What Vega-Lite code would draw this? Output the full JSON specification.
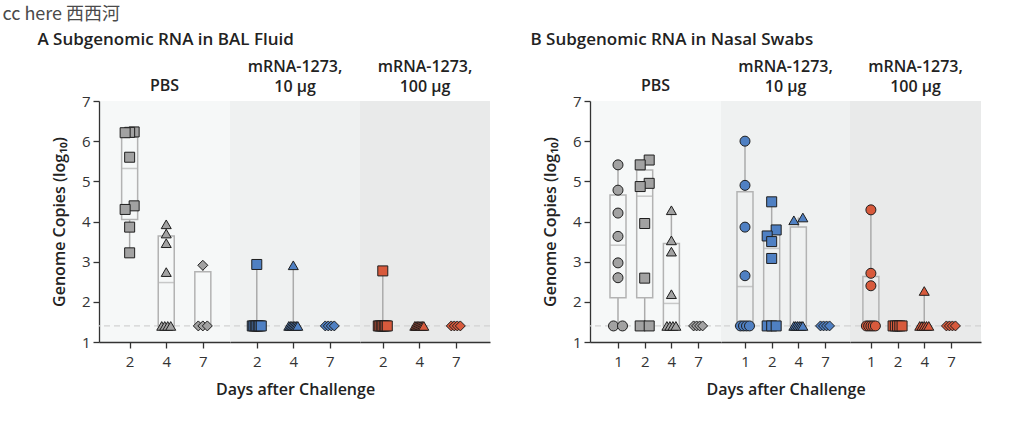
{
  "$schema": "https://vega.github.io/schema/vega-lite/v6.json",
  "padding": {"left": 2, "top": 6, "right": 4, "bottom": 24},
  "title": {"text": "cc here 西西河", "anchor": "start", "dx": -35, "fontSize": 18, "font": "Noto Sans CJK SC", "fontWeight": 400, "color": "#4a4a4a", "offset": 7},
  "datasets": {
    "points": [
      {"panel": "A", "group": "PBS", "day": 2, "value": 6.23},
      {"panel": "A", "group": "PBS", "day": 2, "value": 6.22},
      {"panel": "A", "group": "PBS", "day": 2, "value": 6.21},
      {"panel": "A", "group": "PBS", "day": 2, "value": 5.6},
      {"panel": "A", "group": "PBS", "day": 2, "value": 4.39},
      {"panel": "A", "group": "PBS", "day": 2, "value": 4.3},
      {"panel": "A", "group": "PBS", "day": 2, "value": 3.86},
      {"panel": "A", "group": "PBS", "day": 2, "value": 3.22},
      {"panel": "A", "group": "PBS", "day": 4, "value": 3.93},
      {"panel": "A", "group": "PBS", "day": 4, "value": 3.7},
      {"panel": "A", "group": "PBS", "day": 4, "value": 3.46},
      {"panel": "A", "group": "PBS", "day": 4, "value": 2.74},
      {"panel": "A", "group": "PBS", "day": 4, "value": 1.4},
      {"panel": "A", "group": "PBS", "day": 4, "value": 1.4},
      {"panel": "A", "group": "PBS", "day": 4, "value": 1.4},
      {"panel": "A", "group": "PBS", "day": 4, "value": 1.4},
      {"panel": "A", "group": "PBS", "day": 7, "value": 2.91},
      {"panel": "A", "group": "PBS", "day": 7, "value": 1.4},
      {"panel": "A", "group": "PBS", "day": 7, "value": 1.4},
      {"panel": "A", "group": "PBS", "day": 7, "value": 1.4},
      {"panel": "A", "group": "10", "day": 2, "value": 2.93},
      {"panel": "A", "group": "10", "day": 2, "value": 1.4},
      {"panel": "A", "group": "10", "day": 2, "value": 1.4},
      {"panel": "A", "group": "10", "day": 2, "value": 1.4},
      {"panel": "A", "group": "10", "day": 2, "value": 1.4},
      {"panel": "A", "group": "10", "day": 2, "value": 1.4},
      {"panel": "A", "group": "10", "day": 2, "value": 1.4},
      {"panel": "A", "group": "10", "day": 2, "value": 1.4},
      {"panel": "A", "group": "10", "day": 4, "value": 2.91},
      {"panel": "A", "group": "10", "day": 4, "value": 1.4},
      {"panel": "A", "group": "10", "day": 4, "value": 1.4},
      {"panel": "A", "group": "10", "day": 4, "value": 1.4},
      {"panel": "A", "group": "10", "day": 4, "value": 1.4},
      {"panel": "A", "group": "10", "day": 4, "value": 1.4},
      {"panel": "A", "group": "10", "day": 4, "value": 1.4},
      {"panel": "A", "group": "10", "day": 4, "value": 1.4},
      {"panel": "A", "group": "10", "day": 7, "value": 1.4},
      {"panel": "A", "group": "10", "day": 7, "value": 1.4},
      {"panel": "A", "group": "10", "day": 7, "value": 1.4},
      {"panel": "A", "group": "10", "day": 7, "value": 1.4},
      {"panel": "A", "group": "100", "day": 2, "value": 2.77},
      {"panel": "A", "group": "100", "day": 2, "value": 1.4},
      {"panel": "A", "group": "100", "day": 2, "value": 1.4},
      {"panel": "A", "group": "100", "day": 2, "value": 1.4},
      {"panel": "A", "group": "100", "day": 2, "value": 1.4},
      {"panel": "A", "group": "100", "day": 2, "value": 1.4},
      {"panel": "A", "group": "100", "day": 2, "value": 1.4},
      {"panel": "A", "group": "100", "day": 2, "value": 1.4},
      {"panel": "A", "group": "100", "day": 4, "value": 1.4},
      {"panel": "A", "group": "100", "day": 4, "value": 1.4},
      {"panel": "A", "group": "100", "day": 4, "value": 1.4},
      {"panel": "A", "group": "100", "day": 4, "value": 1.4},
      {"panel": "A", "group": "100", "day": 4, "value": 1.4},
      {"panel": "A", "group": "100", "day": 4, "value": 1.4},
      {"panel": "A", "group": "100", "day": 4, "value": 1.4},
      {"panel": "A", "group": "100", "day": 4, "value": 1.4},
      {"panel": "A", "group": "100", "day": 7, "value": 1.4},
      {"panel": "A", "group": "100", "day": 7, "value": 1.4},
      {"panel": "A", "group": "100", "day": 7, "value": 1.4},
      {"panel": "A", "group": "100", "day": 7, "value": 1.4},
      {"panel": "B", "group": "PBS", "day": 1, "value": 5.41},
      {"panel": "B", "group": "PBS", "day": 1, "value": 4.78},
      {"panel": "B", "group": "PBS", "day": 1, "value": 4.21},
      {"panel": "B", "group": "PBS", "day": 1, "value": 3.63},
      {"panel": "B", "group": "PBS", "day": 1, "value": 2.97},
      {"panel": "B", "group": "PBS", "day": 1, "value": 2.6},
      {"panel": "B", "group": "PBS", "day": 1, "value": 1.4},
      {"panel": "B", "group": "PBS", "day": 1, "value": 1.4},
      {"panel": "B", "group": "PBS", "day": 2, "value": 5.53},
      {"panel": "B", "group": "PBS", "day": 2, "value": 5.41},
      {"panel": "B", "group": "PBS", "day": 2, "value": 4.95},
      {"panel": "B", "group": "PBS", "day": 2, "value": 4.87},
      {"panel": "B", "group": "PBS", "day": 2, "value": 3.95},
      {"panel": "B", "group": "PBS", "day": 2, "value": 2.59},
      {"panel": "B", "group": "PBS", "day": 2, "value": 1.4},
      {"panel": "B", "group": "PBS", "day": 2, "value": 1.4},
      {"panel": "B", "group": "PBS", "day": 4, "value": 4.28},
      {"panel": "B", "group": "PBS", "day": 4, "value": 3.53},
      {"panel": "B", "group": "PBS", "day": 4, "value": 3.25},
      {"panel": "B", "group": "PBS", "day": 4, "value": 2.19},
      {"panel": "B", "group": "PBS", "day": 4, "value": 1.4},
      {"panel": "B", "group": "PBS", "day": 4, "value": 1.4},
      {"panel": "B", "group": "PBS", "day": 4, "value": 1.4},
      {"panel": "B", "group": "PBS", "day": 4, "value": 1.4},
      {"panel": "B", "group": "PBS", "day": 7, "value": 1.4},
      {"panel": "B", "group": "PBS", "day": 7, "value": 1.4},
      {"panel": "B", "group": "PBS", "day": 7, "value": 1.4},
      {"panel": "B", "group": "PBS", "day": 7, "value": 1.4},
      {"panel": "B", "group": "10", "day": 1, "value": 6.0},
      {"panel": "B", "group": "10", "day": 1, "value": 4.9},
      {"panel": "B", "group": "10", "day": 1, "value": 3.86},
      {"panel": "B", "group": "10", "day": 1, "value": 2.65},
      {"panel": "B", "group": "10", "day": 1, "value": 1.4},
      {"panel": "B", "group": "10", "day": 1, "value": 1.4},
      {"panel": "B", "group": "10", "day": 1, "value": 1.4},
      {"panel": "B", "group": "10", "day": 1, "value": 1.4},
      {"panel": "B", "group": "10", "day": 2, "value": 4.49},
      {"panel": "B", "group": "10", "day": 2, "value": 3.79},
      {"panel": "B", "group": "10", "day": 2, "value": 3.64},
      {"panel": "B", "group": "10", "day": 2, "value": 3.5},
      {"panel": "B", "group": "10", "day": 2, "value": 3.08},
      {"panel": "B", "group": "10", "day": 2, "value": 1.4},
      {"panel": "B", "group": "10", "day": 2, "value": 1.4},
      {"panel": "B", "group": "10", "day": 2, "value": 1.4},
      {"panel": "B", "group": "10", "day": 4, "value": 4.1},
      {"panel": "B", "group": "10", "day": 4, "value": 4.03},
      {"panel": "B", "group": "10", "day": 4, "value": 1.4},
      {"panel": "B", "group": "10", "day": 4, "value": 1.4},
      {"panel": "B", "group": "10", "day": 4, "value": 1.4},
      {"panel": "B", "group": "10", "day": 4, "value": 1.4},
      {"panel": "B", "group": "10", "day": 4, "value": 1.4},
      {"panel": "B", "group": "10", "day": 4, "value": 1.4},
      {"panel": "B", "group": "10", "day": 7, "value": 1.4},
      {"panel": "B", "group": "10", "day": 7, "value": 1.4},
      {"panel": "B", "group": "10", "day": 7, "value": 1.4},
      {"panel": "B", "group": "10", "day": 7, "value": 1.4},
      {"panel": "B", "group": "100", "day": 1, "value": 4.29},
      {"panel": "B", "group": "100", "day": 1, "value": 2.71},
      {"panel": "B", "group": "100", "day": 1, "value": 2.4},
      {"panel": "B", "group": "100", "day": 1, "value": 1.4},
      {"panel": "B", "group": "100", "day": 1, "value": 1.4},
      {"panel": "B", "group": "100", "day": 1, "value": 1.4},
      {"panel": "B", "group": "100", "day": 1, "value": 1.4},
      {"panel": "B", "group": "100", "day": 1, "value": 1.4},
      {"panel": "B", "group": "100", "day": 2, "value": 1.4},
      {"panel": "B", "group": "100", "day": 2, "value": 1.4},
      {"panel": "B", "group": "100", "day": 2, "value": 1.4},
      {"panel": "B", "group": "100", "day": 2, "value": 1.4},
      {"panel": "B", "group": "100", "day": 2, "value": 1.4},
      {"panel": "B", "group": "100", "day": 4, "value": 2.27},
      {"panel": "B", "group": "100", "day": 4, "value": 1.4},
      {"panel": "B", "group": "100", "day": 4, "value": 1.4},
      {"panel": "B", "group": "100", "day": 4, "value": 1.4},
      {"panel": "B", "group": "100", "day": 4, "value": 1.4},
      {"panel": "B", "group": "100", "day": 4, "value": 1.4},
      {"panel": "B", "group": "100", "day": 7, "value": 1.4},
      {"panel": "B", "group": "100", "day": 7, "value": 1.4},
      {"panel": "B", "group": "100", "day": 7, "value": 1.4},
      {"panel": "B", "group": "100", "day": 7, "value": 1.4}
    ],
    "boxes": [
      {"panel": "A", "group": "PBS", "day": 2, "min": 3.22, "q1": 4.05, "med": 5.32, "q3": 6.1, "max": 6.23},
      {"panel": "A", "group": "PBS", "day": 4, "min": 1.4, "q1": 1.4, "med": 2.48, "q3": 3.64, "max": 3.93},
      {"panel": "A", "group": "PBS", "day": 7, "min": 1.4, "q1": 1.4, "med": 1.4, "q3": 2.75, "max": 2.91},
      {"panel": "A", "group": "10", "day": 2, "min": 1.4, "q1": 1.4, "med": 1.4, "q3": 1.4, "max": 2.93},
      {"panel": "A", "group": "10", "day": 4, "min": 1.4, "q1": 1.4, "med": 1.4, "q3": 1.4, "max": 2.91},
      {"panel": "A", "group": "10", "day": 7, "min": 1.4, "q1": 1.4, "med": 1.4, "q3": 1.4, "max": 1.4},
      {"panel": "A", "group": "100", "day": 2, "min": 1.4, "q1": 1.4, "med": 1.4, "q3": 1.4, "max": 2.77},
      {"panel": "A", "group": "100", "day": 4, "min": 1.4, "q1": 1.4, "med": 1.4, "q3": 1.4, "max": 1.4},
      {"panel": "A", "group": "100", "day": 7, "min": 1.4, "q1": 1.4, "med": 1.4, "q3": 1.4, "max": 1.4},
      {"panel": "B", "group": "PBS", "day": 1, "min": 1.4, "q1": 2.1, "med": 3.41, "q3": 4.66, "max": 5.41},
      {"panel": "B", "group": "PBS", "day": 2, "min": 1.4, "q1": 2.1, "med": 4.63, "q3": 5.28, "max": 5.53},
      {"panel": "B", "group": "PBS", "day": 4, "min": 1.4, "q1": 1.4, "med": 1.96, "q3": 3.45, "max": 4.28},
      {"panel": "B", "group": "PBS", "day": 7, "min": 1.4, "q1": 1.4, "med": 1.4, "q3": 1.4, "max": 1.4},
      {"panel": "B", "group": "10", "day": 1, "min": 1.4, "q1": 1.4, "med": 2.38, "q3": 4.74, "max": 6.0},
      {"panel": "B", "group": "10", "day": 2, "min": 1.4, "q1": 1.4, "med": 3.33, "q3": 3.71, "max": 4.49},
      {"panel": "B", "group": "10", "day": 4, "min": 1.4, "q1": 1.4, "med": 1.4, "q3": 3.86, "max": 4.1},
      {"panel": "B", "group": "10", "day": 7, "min": 1.4, "q1": 1.4, "med": 1.4, "q3": 1.4, "max": 1.4},
      {"panel": "B", "group": "100", "day": 1, "min": 1.4, "q1": 1.4, "med": 1.4, "q3": 2.63, "max": 4.29},
      {"panel": "B", "group": "100", "day": 2, "min": 1.4, "q1": 1.4, "med": 1.4, "q3": 1.4, "max": 1.4},
      {"panel": "B", "group": "100", "day": 4, "min": 1.4, "q1": 1.4, "med": 1.4, "q3": 1.4, "max": 2.27},
      {"panel": "B", "group": "100", "day": 7, "min": 1.4, "q1": 1.4, "med": 1.4, "q3": 1.4, "max": 1.4}
    ]
  },
  "spacing": 39,
  "hconcat": [
    {
      "title": {"text": "A  Subgenomic RNA in BAL Fluid", "anchor": "start", "dx": -14, "fontSize": 17, "fontWeight": 600, "offset": 10},
      "bounds": "flush",
      "spacing": 0,
      "hconcat": [
        {
          "width": 131, "height": 241,
          "view": {"fill": "#f6f8f8", "stroke": null},
          "title": {"text": "PBS", "dy": 6},
          "layer": [
            {"data": {"values": [{}]}, "mark": {"type": "rule", "strokeDash": [6, 4], "color": "#d2d2d2", "strokeWidth": 1.2},
             "encoding": {"y": {"datum": 1.4, "type": "quantitative", "scale": {"domain": [1, 7], "nice": false, "zero": false}, "axis": {"title": "Genome Copies (log₁₀)", "values": [1, 2, 3, 4, 5, 6, 7]}}}},
            {"data": {"name": "boxes"}, "transform": [{"filter": "datum.panel === 'A' && datum.group === 'PBS'"}],
             "mark": {"type": "rule", "color": "#ababab", "strokeWidth": 1.5},
             "encoding": {"x": {"field": "day", "type": "ordinal", "scale": {"type": "point", "domain": [2, 4, 7], "padding": 0.79, "align": 0.53}, "axis": {"title": null}},
                          "y": {"field": "min", "type": "quantitative", "axis": {"title": "Genome Copies (log₁₀)", "values": [1, 2, 3, 4, 5, 6, 7]}}, "y2": {"field": "q1"}}},
            {"data": {"name": "boxes"}, "transform": [{"filter": "datum.panel === 'A' && datum.group === 'PBS'"}],
             "mark": {"type": "rule", "color": "#ababab", "strokeWidth": 1.5},
             "encoding": {"x": {"field": "day", "type": "ordinal"}, "y": {"field": "q3", "type": "quantitative", "axis": {"title": "Genome Copies (log₁₀)", "values": [1, 2, 3, 4, 5, 6, 7]}}, "y2": {"field": "max"}}},
            {"data": {"name": "boxes"}, "transform": [{"filter": "datum.panel === 'A' && datum.group === 'PBS'"}],
             "mark": {"type": "bar", "size": 16, "fill": "#ffffff", "fillOpacity": 0, "stroke": "#b3b3b3", "strokeWidth": 1.5},
             "encoding": {"x": {"field": "day", "type": "ordinal"}, "y": {"field": "q1", "type": "quantitative", "axis": {"title": "Genome Copies (log₁₀)", "values": [1, 2, 3, 4, 5, 6, 7]}}, "y2": {"field": "q3"}}},
            {"data": {"name": "boxes"}, "transform": [{"filter": "datum.panel === 'A' && datum.group === 'PBS'"}],
             "mark": {"type": "tick", "orient": "horizontal", "size": 16, "thickness": 1.5, "color": "#b3b3b3"},
             "encoding": {"x": {"field": "day", "type": "ordinal"}, "y": {"field": "med", "type": "quantitative", "axis": {"title": "Genome Copies (log₁₀)", "values": [1, 2, 3, 4, 5, 6, 7]}}}},
            {"data": {"name": "points"},
             "transform": [
               {"filter": "datum.panel === 'A' && datum.group === 'PBS'"},
               {"bin": {"step": 0.2, "extent": [1, 7]}, "field": "value", "as": "vb"},
               {"joinaggregate": [{"op": "count", "as": "n"}], "groupby": ["day", "vb"]},
               {"window": [{"op": "row_number", "as": "r"}], "groupby": ["day", "vb"], "sort": [{"field": "value", "order": "ascending"}]},
               {"calculate": "datum.n > 1 ? (datum.r - (datum.n + 1) / 2) / (datum.n - 1) : 0", "as": "j"}
             ],
             "mark": {"type": "point", "filled": true, "stroke": "#1e1e1e", "strokeWidth": 1, "opacity": 1, "size": 100},
             "encoding": {
               "x": {"field": "day", "type": "ordinal"},
               "xOffset": {"field": "j", "type": "quantitative", "scale": {"domain": [-0.5, 0.5], "range": [-4.5, 4.5]}},
               "y": {"field": "value", "type": "quantitative", "axis": {"title": "Genome Copies (log₁₀)", "values": [1, 2, 3, 4, 5, 6, 7]}},
               "shape": {"field": "day", "type": "ordinal", "scale": {"domain": [1, 2, 4, 7], "range": ["circle", "square", "triangle-up", "diamond"]}, "legend": null},
               "fill": {"field": "group", "type": "nominal", "scale": {"domain": ["PBS", "10", "100"], "range": ["#a2a2a2", "#4f80c3", "#d85a3c"]}, "legend": null}
             }}
          ]
        },
        {
          "width": 130, "height": 241,
          "view": {"fill": "#eff1f1", "stroke": null},
          "title": {"text": ["mRNA-1273,", "10 μg"]},
          "layer": [
            {"data": {"values": [{}]}, "mark": {"type": "rule", "strokeDash": [6, 4], "color": "#d2d2d2", "strokeWidth": 1.2},
             "encoding": {"y": {"datum": 1.4, "type": "quantitative", "scale": {"domain": [1, 7], "nice": false, "zero": false}, "axis": null}}},
            {"data": {"name": "boxes"}, "transform": [{"filter": "datum.panel === 'A' && datum.group === '10'"}],
             "mark": {"type": "rule", "color": "#ababab", "strokeWidth": 1.5},
             "encoding": {"x": {"field": "day", "type": "ordinal", "scale": {"type": "point", "domain": [2, 4, 7], "padding": 0.78, "align": 0.47}, "axis": {"title": "Days after Challenge"}},
                          "y": {"field": "min", "type": "quantitative", "axis": null}, "y2": {"field": "q1"}}},
            {"data": {"name": "boxes"}, "transform": [{"filter": "datum.panel === 'A' && datum.group === '10'"}],
             "mark": {"type": "rule", "color": "#ababab", "strokeWidth": 1.5},
             "encoding": {"x": {"field": "day", "type": "ordinal"}, "y": {"field": "q3", "type": "quantitative", "axis": null}, "y2": {"field": "max"}}},
            {"data": {"name": "boxes"}, "transform": [{"filter": "datum.panel === 'A' && datum.group === '10'"}],
             "mark": {"type": "bar", "size": 16, "fill": "#ffffff", "fillOpacity": 0, "stroke": "#b3b3b3", "strokeWidth": 1.5},
             "encoding": {"x": {"field": "day", "type": "ordinal"}, "y": {"field": "q1", "type": "quantitative", "axis": null}, "y2": {"field": "q3"}}},
            {"data": {"name": "boxes"}, "transform": [{"filter": "datum.panel === 'A' && datum.group === '10'"}],
             "mark": {"type": "tick", "orient": "horizontal", "size": 16, "thickness": 1.5, "color": "#b3b3b3"},
             "encoding": {"x": {"field": "day", "type": "ordinal"}, "y": {"field": "med", "type": "quantitative", "axis": null}}},
            {"data": {"name": "points"},
             "transform": [
               {"filter": "datum.panel === 'A' && datum.group === '10'"},
               {"bin": {"step": 0.2, "extent": [1, 7]}, "field": "value", "as": "vb"},
               {"joinaggregate": [{"op": "count", "as": "n"}], "groupby": ["day", "vb"]},
               {"window": [{"op": "row_number", "as": "r"}], "groupby": ["day", "vb"], "sort": [{"field": "value", "order": "ascending"}]},
               {"calculate": "datum.n > 1 ? (datum.r - (datum.n + 1) / 2) / (datum.n - 1) : 0", "as": "j"}
             ],
             "mark": {"type": "point", "filled": true, "stroke": "#1e1e1e", "strokeWidth": 1, "opacity": 1, "size": 100},
             "encoding": {
               "x": {"field": "day", "type": "ordinal"},
               "xOffset": {"field": "j", "type": "quantitative", "scale": {"domain": [-0.5, 0.5], "range": [-4.5, 4.5]}},
               "y": {"field": "value", "type": "quantitative", "axis": null},
               "shape": {"field": "day", "type": "ordinal", "scale": {"domain": [1, 2, 4, 7], "range": ["circle", "square", "triangle-up", "diamond"]}, "legend": null},
               "fill": {"field": "group", "type": "nominal", "scale": {"domain": ["PBS", "10", "100"], "range": ["#a2a2a2", "#4f80c3", "#d85a3c"]}, "legend": null}
             }}
          ]
        },
        {
          "width": 130, "height": 241,
          "view": {"fill": "#e9eaea", "stroke": null},
          "title": {"text": ["mRNA-1273,", "100 μg"]},
          "layer": [
            {"data": {"values": [{}]}, "mark": {"type": "rule", "strokeDash": [6, 4], "color": "#d2d2d2", "strokeWidth": 1.2},
             "encoding": {"y": {"datum": 1.4, "type": "quantitative", "scale": {"domain": [1, 7], "nice": false, "zero": false}, "axis": null}}},
            {"data": {"name": "boxes"}, "transform": [{"filter": "datum.panel === 'A' && datum.group === '100'"}],
             "mark": {"type": "rule", "color": "#ababab", "strokeWidth": 1.5},
             "encoding": {"x": {"field": "day", "type": "ordinal", "scale": {"type": "point", "domain": [2, 4, 7], "padding": 0.78, "align": 0.4}, "axis": {"title": null}},
                          "y": {"field": "min", "type": "quantitative", "axis": null}, "y2": {"field": "q1"}}},
            {"data": {"name": "boxes"}, "transform": [{"filter": "datum.panel === 'A' && datum.group === '100'"}],
             "mark": {"type": "rule", "color": "#ababab", "strokeWidth": 1.5},
             "encoding": {"x": {"field": "day", "type": "ordinal"}, "y": {"field": "q3", "type": "quantitative", "axis": null}, "y2": {"field": "max"}}},
            {"data": {"name": "boxes"}, "transform": [{"filter": "datum.panel === 'A' && datum.group === '100'"}],
             "mark": {"type": "bar", "size": 16, "fill": "#ffffff", "fillOpacity": 0, "stroke": "#b3b3b3", "strokeWidth": 1.5},
             "encoding": {"x": {"field": "day", "type": "ordinal"}, "y": {"field": "q1", "type": "quantitative", "axis": null}, "y2": {"field": "q3"}}},
            {"data": {"name": "boxes"}, "transform": [{"filter": "datum.panel === 'A' && datum.group === '100'"}],
             "mark": {"type": "tick", "orient": "horizontal", "size": 16, "thickness": 1.5, "color": "#b3b3b3"},
             "encoding": {"x": {"field": "day", "type": "ordinal"}, "y": {"field": "med", "type": "quantitative", "axis": null}}},
            {"data": {"name": "points"},
             "transform": [
               {"filter": "datum.panel === 'A' && datum.group === '100'"},
               {"bin": {"step": 0.2, "extent": [1, 7]}, "field": "value", "as": "vb"},
               {"joinaggregate": [{"op": "count", "as": "n"}], "groupby": ["day", "vb"]},
               {"window": [{"op": "row_number", "as": "r"}], "groupby": ["day", "vb"], "sort": [{"field": "value", "order": "ascending"}]},
               {"calculate": "datum.n > 1 ? (datum.r - (datum.n + 1) / 2) / (datum.n - 1) : 0", "as": "j"}
             ],
             "mark": {"type": "point", "filled": true, "stroke": "#1e1e1e", "strokeWidth": 1, "opacity": 1, "size": 100},
             "encoding": {
               "x": {"field": "day", "type": "ordinal"},
               "xOffset": {"field": "j", "type": "quantitative", "scale": {"domain": [-0.5, 0.5], "range": [-4.5, 4.5]}},
               "y": {"field": "value", "type": "quantitative", "axis": null},
               "shape": {"field": "day", "type": "ordinal", "scale": {"domain": [1, 2, 4, 7], "range": ["circle", "square", "triangle-up", "diamond"]}, "legend": null},
               "fill": {"field": "group", "type": "nominal", "scale": {"domain": ["PBS", "10", "100"], "range": ["#a2a2a2", "#4f80c3", "#d85a3c"]}, "legend": null}
             }}
          ]
        }
      ]
    },
    {
      "title": {"text": "B  Subgenomic RNA in Nasal Swabs", "anchor": "start", "dx": -12, "fontSize": 17, "fontWeight": 600, "offset": 10},
      "bounds": "flush",
      "spacing": 0,
      "hconcat": [
        {
          "width": 131, "height": 241,
          "view": {"fill": "#f6f8f8", "stroke": null},
          "title": {"text": "PBS", "dy": 6},
          "layer": [
            {"data": {"values": [{}]}, "mark": {"type": "rule", "strokeDash": [6, 4], "color": "#d2d2d2", "strokeWidth": 1.2},
             "encoding": {"y": {"datum": 1.4, "type": "quantitative", "scale": {"domain": [1, 7], "nice": false, "zero": false}, "axis": {"title": "Genome Copies (log₁₀)", "values": [1, 2, 3, 4, 5, 6, 7]}}}},
            {"data": {"name": "boxes"}, "transform": [{"filter": "datum.panel === 'B' && datum.group === 'PBS'"}],
             "mark": {"type": "rule", "color": "#ababab", "strokeWidth": 1.5},
             "encoding": {"x": {"field": "day", "type": "ordinal", "scale": {"type": "point", "domain": [1, 2, 4, 7], "padding": 0.953, "align": 0.55}, "axis": {"title": null}},
                          "y": {"field": "min", "type": "quantitative", "axis": {"title": "Genome Copies (log₁₀)", "values": [1, 2, 3, 4, 5, 6, 7]}}, "y2": {"field": "q1"}}},
            {"data": {"name": "boxes"}, "transform": [{"filter": "datum.panel === 'B' && datum.group === 'PBS'"}],
             "mark": {"type": "rule", "color": "#ababab", "strokeWidth": 1.5},
             "encoding": {"x": {"field": "day", "type": "ordinal"}, "y": {"field": "q3", "type": "quantitative", "axis": {"title": "Genome Copies (log₁₀)", "values": [1, 2, 3, 4, 5, 6, 7]}}, "y2": {"field": "max"}}},
            {"data": {"name": "boxes"}, "transform": [{"filter": "datum.panel === 'B' && datum.group === 'PBS'"}],
             "mark": {"type": "bar", "size": 16, "fill": "#ffffff", "fillOpacity": 0, "stroke": "#b3b3b3", "strokeWidth": 1.5},
             "encoding": {"x": {"field": "day", "type": "ordinal"}, "y": {"field": "q1", "type": "quantitative", "axis": {"title": "Genome Copies (log₁₀)", "values": [1, 2, 3, 4, 5, 6, 7]}}, "y2": {"field": "q3"}}},
            {"data": {"name": "boxes"}, "transform": [{"filter": "datum.panel === 'B' && datum.group === 'PBS'"}],
             "mark": {"type": "tick", "orient": "horizontal", "size": 16, "thickness": 1.5, "color": "#b3b3b3"},
             "encoding": {"x": {"field": "day", "type": "ordinal"}, "y": {"field": "med", "type": "quantitative", "axis": {"title": "Genome Copies (log₁₀)", "values": [1, 2, 3, 4, 5, 6, 7]}}}},
            {"data": {"name": "points"},
             "transform": [
               {"filter": "datum.panel === 'B' && datum.group === 'PBS'"},
               {"bin": {"step": 0.2, "extent": [1, 7]}, "field": "value", "as": "vb"},
               {"joinaggregate": [{"op": "count", "as": "n"}], "groupby": ["day", "vb"]},
               {"window": [{"op": "row_number", "as": "r"}], "groupby": ["day", "vb"], "sort": [{"field": "value", "order": "ascending"}]},
               {"calculate": "datum.n > 1 ? (datum.r - (datum.n + 1) / 2) / (datum.n - 1) : 0", "as": "j"}
             ],
             "mark": {"type": "point", "filled": true, "stroke": "#1e1e1e", "strokeWidth": 1, "opacity": 1, "size": 100},
             "encoding": {
               "x": {"field": "day", "type": "ordinal"},
               "xOffset": {"field": "j", "type": "quantitative", "scale": {"domain": [-0.5, 0.5], "range": [-4.5, 4.5]}},
               "y": {"field": "value", "type": "quantitative", "axis": {"title": "Genome Copies (log₁₀)", "values": [1, 2, 3, 4, 5, 6, 7]}},
               "shape": {"field": "day", "type": "ordinal", "scale": {"domain": [1, 2, 4, 7], "range": ["circle", "square", "triangle-up", "diamond"]}, "legend": null},
               "fill": {"field": "group", "type": "nominal", "scale": {"domain": ["PBS", "10", "100"], "range": ["#a2a2a2", "#4f80c3", "#d85a3c"]}, "legend": null}
             }}
          ]
        },
        {
          "width": 129, "height": 241,
          "view": {"fill": "#eff1f1", "stroke": null},
          "title": {"text": ["mRNA-1273,", "10 μg"]},
          "layer": [
            {"data": {"values": [{}]}, "mark": {"type": "rule", "strokeDash": [6, 4], "color": "#d2d2d2", "strokeWidth": 1.2},
             "encoding": {"y": {"datum": 1.4, "type": "quantitative", "scale": {"domain": [1, 7], "nice": false, "zero": false}, "axis": null}}},
            {"data": {"name": "boxes"}, "transform": [{"filter": "datum.panel === 'B' && datum.group === '10'"}],
             "mark": {"type": "rule", "color": "#ababab", "strokeWidth": 1.5},
             "encoding": {"x": {"field": "day", "type": "ordinal", "scale": {"type": "point", "domain": [1, 2, 4, 7], "padding": 0.918, "align": 0.49}, "axis": {"title": "Days after Challenge"}},
                          "y": {"field": "min", "type": "quantitative", "axis": null}, "y2": {"field": "q1"}}},
            {"data": {"name": "boxes"}, "transform": [{"filter": "datum.panel === 'B' && datum.group === '10'"}],
             "mark": {"type": "rule", "color": "#ababab", "strokeWidth": 1.5},
             "encoding": {"x": {"field": "day", "type": "ordinal"}, "y": {"field": "q3", "type": "quantitative", "axis": null}, "y2": {"field": "max"}}},
            {"data": {"name": "boxes"}, "transform": [{"filter": "datum.panel === 'B' && datum.group === '10'"}],
             "mark": {"type": "bar", "size": 16, "fill": "#ffffff", "fillOpacity": 0, "stroke": "#b3b3b3", "strokeWidth": 1.5},
             "encoding": {"x": {"field": "day", "type": "ordinal"}, "y": {"field": "q1", "type": "quantitative", "axis": null}, "y2": {"field": "q3"}}},
            {"data": {"name": "boxes"}, "transform": [{"filter": "datum.panel === 'B' && datum.group === '10'"}],
             "mark": {"type": "tick", "orient": "horizontal", "size": 16, "thickness": 1.5, "color": "#b3b3b3"},
             "encoding": {"x": {"field": "day", "type": "ordinal"}, "y": {"field": "med", "type": "quantitative", "axis": null}}},
            {"data": {"name": "points"},
             "transform": [
               {"filter": "datum.panel === 'B' && datum.group === '10'"},
               {"bin": {"step": 0.2, "extent": [1, 7]}, "field": "value", "as": "vb"},
               {"joinaggregate": [{"op": "count", "as": "n"}], "groupby": ["day", "vb"]},
               {"window": [{"op": "row_number", "as": "r"}], "groupby": ["day", "vb"], "sort": [{"field": "value", "order": "ascending"}]},
               {"calculate": "datum.n > 1 ? (datum.r - (datum.n + 1) / 2) / (datum.n - 1) : 0", "as": "j"}
             ],
             "mark": {"type": "point", "filled": true, "stroke": "#1e1e1e", "strokeWidth": 1, "opacity": 1, "size": 100},
             "encoding": {
               "x": {"field": "day", "type": "ordinal"},
               "xOffset": {"field": "j", "type": "quantitative", "scale": {"domain": [-0.5, 0.5], "range": [-4.5, 4.5]}},
               "y": {"field": "value", "type": "quantitative", "axis": null},
               "shape": {"field": "day", "type": "ordinal", "scale": {"domain": [1, 2, 4, 7], "range": ["circle", "square", "triangle-up", "diamond"]}, "legend": null},
               "fill": {"field": "group", "type": "nominal", "scale": {"domain": ["PBS", "10", "100"], "range": ["#a2a2a2", "#4f80c3", "#d85a3c"]}, "legend": null}
             }}
          ]
        },
        {
          "width": 131, "height": 241,
          "view": {"fill": "#e9eaea", "stroke": null},
          "title": {"text": ["mRNA-1273,", "100 μg"]},
          "layer": [
            {"data": {"values": [{}]}, "mark": {"type": "rule", "strokeDash": [6, 4], "color": "#d2d2d2", "strokeWidth": 1.2},
             "encoding": {"y": {"datum": 1.4, "type": "quantitative", "scale": {"domain": [1, 7], "nice": false, "zero": false}, "axis": null}}},
            {"data": {"name": "boxes"}, "transform": [{"filter": "datum.panel === 'B' && datum.group === '100'"}],
             "mark": {"type": "rule", "color": "#ababab", "strokeWidth": 1.5},
             "encoding": {"x": {"field": "day", "type": "ordinal", "scale": {"type": "point", "domain": [1, 2, 4, 7], "padding": 0.955, "align": 0.41}, "axis": {"title": null}},
                          "y": {"field": "min", "type": "quantitative", "axis": null}, "y2": {"field": "q1"}}},
            {"data": {"name": "boxes"}, "transform": [{"filter": "datum.panel === 'B' && datum.group === '100'"}],
             "mark": {"type": "rule", "color": "#ababab", "strokeWidth": 1.5},
             "encoding": {"x": {"field": "day", "type": "ordinal"}, "y": {"field": "q3", "type": "quantitative", "axis": null}, "y2": {"field": "max"}}},
            {"data": {"name": "boxes"}, "transform": [{"filter": "datum.panel === 'B' && datum.group === '100'"}],
             "mark": {"type": "bar", "size": 16, "fill": "#ffffff", "fillOpacity": 0, "stroke": "#b3b3b3", "strokeWidth": 1.5},
             "encoding": {"x": {"field": "day", "type": "ordinal"}, "y": {"field": "q1", "type": "quantitative", "axis": null}, "y2": {"field": "q3"}}},
            {"data": {"name": "boxes"}, "transform": [{"filter": "datum.panel === 'B' && datum.group === '100'"}],
             "mark": {"type": "tick", "orient": "horizontal", "size": 16, "thickness": 1.5, "color": "#b3b3b3"},
             "encoding": {"x": {"field": "day", "type": "ordinal"}, "y": {"field": "med", "type": "quantitative", "axis": null}}},
            {"data": {"name": "points"},
             "transform": [
               {"filter": "datum.panel === 'B' && datum.group === '100'"},
               {"bin": {"step": 0.2, "extent": [1, 7]}, "field": "value", "as": "vb"},
               {"joinaggregate": [{"op": "count", "as": "n"}], "groupby": ["day", "vb"]},
               {"window": [{"op": "row_number", "as": "r"}], "groupby": ["day", "vb"], "sort": [{"field": "value", "order": "ascending"}]},
               {"calculate": "datum.n > 1 ? (datum.r - (datum.n + 1) / 2) / (datum.n - 1) : 0", "as": "j"}
             ],
             "mark": {"type": "point", "filled": true, "stroke": "#1e1e1e", "strokeWidth": 1, "opacity": 1, "size": 100},
             "encoding": {
               "x": {"field": "day", "type": "ordinal"},
               "xOffset": {"field": "j", "type": "quantitative", "scale": {"domain": [-0.5, 0.5], "range": [-4.5, 4.5]}},
               "y": {"field": "value", "type": "quantitative", "axis": null},
               "shape": {"field": "day", "type": "ordinal", "scale": {"domain": [1, 2, 4, 7], "range": ["circle", "square", "triangle-up", "diamond"]}, "legend": null},
               "fill": {"field": "group", "type": "nominal", "scale": {"domain": ["PBS", "10", "100"], "range": ["#a2a2a2", "#4f80c3", "#d85a3c"]}, "legend": null}
             }}
          ]
        }
      ]
    }
  ],
  "config": {
    "font": "Open Sans",
    "view": {"stroke": null},
    "title": {"font": "Open Sans", "fontSize": 16, "fontWeight": 600, "color": "#222222", "anchor": "middle", "offset": 6, "lineHeight": 20},
    "axis": {"grid": false, "domainColor": "#333333", "tickColor": "#333333", "domainWidth": 1.3, "tickWidth": 1.3, "labelColor": "#333333", "labelFontSize": 15, "labelFont": "Open Sans", "titleFont": "Open Sans", "titleFontSize": 16, "titleFontWeight": 600, "titleColor": "#222222"},
    "axisX": {"labelAngle": 0, "tickSize": 6, "labelPadding": 6, "titlePadding": 12},
    "axisY": {"tickSize": 6, "labelPadding": 3, "titlePadding": 14}
  }
}
